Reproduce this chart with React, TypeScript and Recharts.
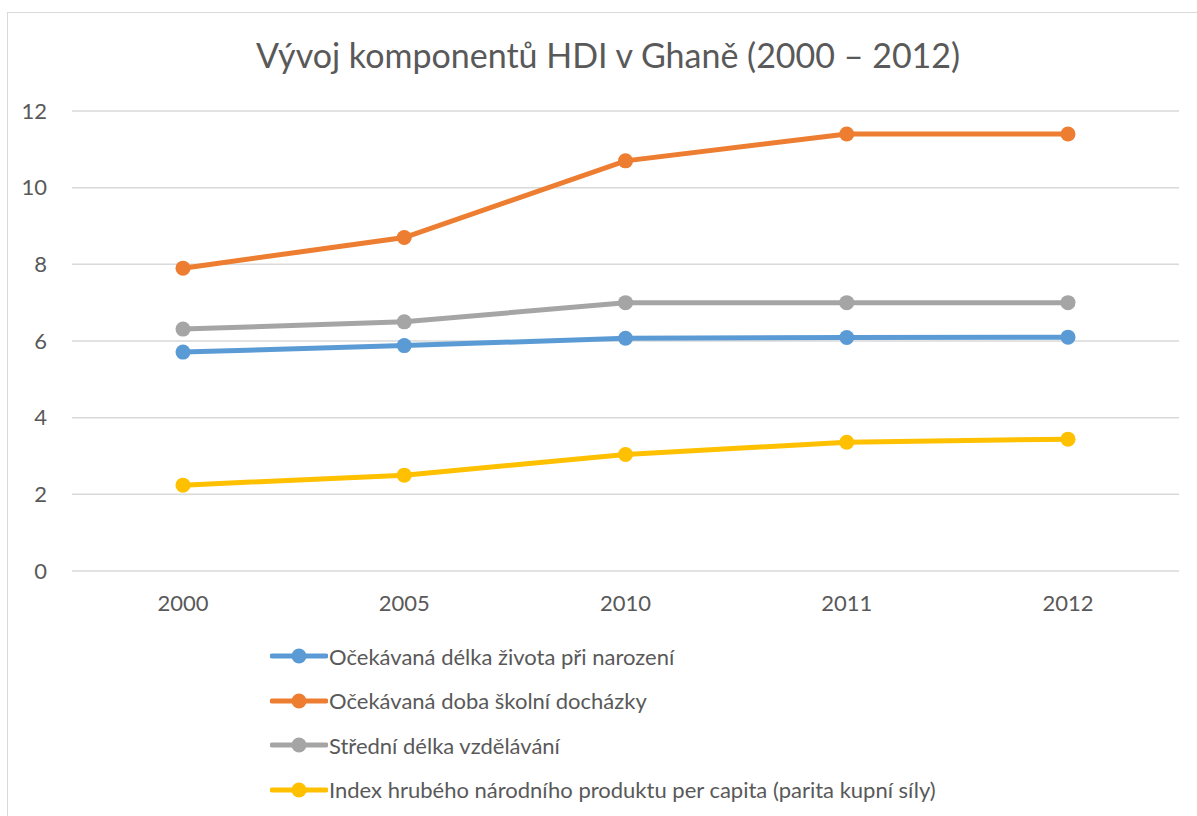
import { LineChart, Line, XAxis, YAxis, CartesianGrid, Legend } from 'recharts';

const years = ['2000', '2005', '2010', '2011', '2012'];
const lifeExpectancy = [5.71, 5.88, 6.07, 6.09, 6.1];
const expectedSchooling = [7.9, 8.7, 10.7, 11.4, 11.4];
const meanSchooling = [6.31, 6.5, 7.0, 7.0, 7.0];
const gniIndex = [2.24, 2.5, 3.04, 3.36, 3.44];
const yTicks = [0, 2, 4, 6, 8, 10, 12];

const seriesNames = {
  life: 'Očekávaná délka života při narození',
  school: 'Očekávaná doba školní docházky',
  mean: 'Střední délka vzdělávání',
  gni: 'Index hrubého národního produktu per capita (parita kupní síly)',
};

const data = years.map((year, i) => ({
  year,
  life: lifeExpectancy[i],
  school: expectedSchooling[i],
  mean: meanSchooling[i],
  gni: gniIndex[i],
}));

const FONT = 'Lato, "Open Sans", sans-serif';
const TEXT = '#595959';

const series = [
  { key: 'life', color: '#5B9BD5' },
  { key: 'school', color: '#ED7D31' },
  { key: 'mean', color: '#A5A5A5' },
  { key: 'gni', color: '#FFC000' },
];

// own order, the library sorts payload by name
function renderLegend() {
  return (
    <div>
      {series.map((s) => (
        <div key={s.key} style={{ display: 'flex', alignItems: 'center', height: 44.5 }}>
          <svg width={58} height={18} style={{ display: 'block' }}>
            <line x1={2} y1={9} x2={56} y2={9} stroke={s.color} strokeWidth={5} strokeLinecap="round" />
            <circle cx={29} cy={9} r={7.5} fill={s.color} />
          </svg>
          <span style={{ fontFamily: FONT, fontSize: 22, color: TEXT, whiteSpace: 'nowrap', marginLeft: 1 }}>
            {(seriesNames as any)[s.key]}
          </span>
        </div>
      ))}
    </div>
  );
}

export default function App() {
  return (
    <div style={{ position: 'absolute', left: 0, top: 0, width: 1197, height: 816, overflow: 'hidden', background: '#fff' }}>
      <div
        style={{
          position: 'absolute',
          left: 7,
          top: 12,
          width: 1200,
          height: 820,
          border: '1px solid #d9d9d9',
          boxSizing: 'border-box',
        }}
      />
      <div
        style={{
          position: 'absolute',
          left: 0,
          top: 34,
          width: 1216,
          textAlign: 'center',
          fontFamily: FONT,
          fontSize: 34,
          color: TEXT,
          whiteSpace: 'nowrap',
        }}
      >
        Vývoj komponentů HDI v Ghaně (2000 – 2012)
      </div>
      <div style={{ position: 'absolute', left: 0, top: 0 }}>
        <LineChart width={1197} height={816} data={data} margin={{ top: 111, right: 18, bottom: 195, left: 0 }}>
          <CartesianGrid vertical={false} stroke="#d9d9d9" strokeWidth={1.5} />
          <XAxis
            dataKey="year"
            axisLine={false}
            tickLine={false}
            tickSize={0}
            tickMargin={24}
            height={50}
            padding={{ left: 111, right: 111 }}
            tick={{ fill: TEXT, fontSize: 22, fontFamily: FONT }}
          />
          <YAxis
            domain={[0, 12]}
            ticks={yTicks}
            width={72}
            axisLine={false}
            tickLine={false}
            tickSize={0}
            tickMargin={25}
            tick={{ fill: TEXT, fontSize: 22, fontFamily: FONT }}
          />
          {series.map((s) => (
            <Line
              key={s.key}
              type="linear"
              dataKey={s.key}
              name={(seriesNames as any)[s.key]}
              stroke={s.color}
              strokeWidth={5}
              dot={{ r: 7.5, fill: s.color, stroke: 'none' }}
              activeDot={false}
              isAnimationActive={false}
            />
          ))}
          <Legend
            layout="vertical"
            align="center"
            verticalAlign="middle"
            content={renderLegend}
            wrapperStyle={{ position: 'absolute', left: 270, top: 634, width: 'auto' }}
          />
        </LineChart>
      </div>
    </div>
  );
}
